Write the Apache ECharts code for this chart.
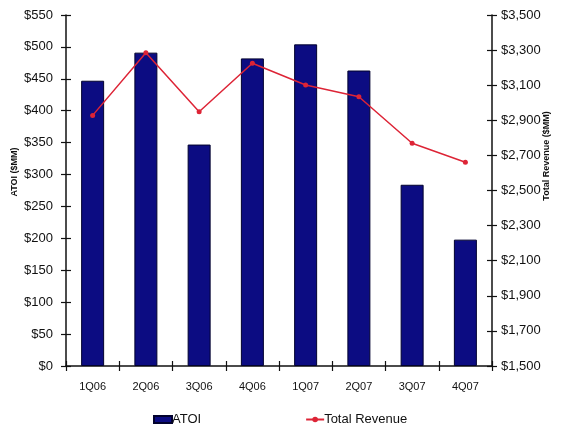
<!DOCTYPE html>
<html>
<head>
<meta charset="utf-8">
<script src="https://cdn.jsdelivr.net/npm/echarts@6/dist/echarts.min.js"></script>
<style>
  html, body { margin: 0; padding: 0; background: #fff; }
  #chart { width: 563px; height: 427px; }
</style>
</head>
<body>
<div id="chart"></div>
<script>
// Quarterly ATOI (bars, left axis) and total revenue (line, right axis), $MM
const quarters = ['1Q06', '2Q06', '3Q06', '4Q06', '1Q07', '2Q07', '3Q07', '4Q07'];
const atoi = [447, 491, 347, 482, 504, 463, 284, 198];
const totalRevenue = [2928, 3285, 2949, 3225, 3101, 3034, 2769, 2661];

const atoiAxis = { min: 0, max: 550, interval: 50 };
const revenueAxis = { min: 1500, max: 3500, interval: 200 };

const FONT = 'Liberation Sans, Arial, sans-serif';
const INK = '#111';
const AXIS_LINE = { show: true, lineStyle: { color: '#111', width: 1.5 } };

function money(v) {
  return '$' + v.toLocaleString('en-US');
}

// Each axis is paired with a label-less twin carrying inward ticks,
// so the tick marks cross the axis line.
function yPair(range, position, margin) {
  const base = Object.assign({
    type: 'value',
    position: position,
    splitLine: { show: false },
    axisLine: AXIS_LINE,
    axisTick: { show: true, inside: false, length: 5, lineStyle: { color: '#111', width: 1.2 } },
    axisLabel: { formatter: money, color: INK, fontFamily: FONT, fontSize: 13, margin: margin }
  }, range);
  const twin = Object.assign({
    type: 'value',
    position: position,
    splitLine: { show: false },
    axisLine: { show: false },
    axisTick: { show: true, inside: true, length: 5, lineStyle: { color: '#111', width: 1.2 } },
    axisLabel: { show: false }
  }, range);
  return [base, twin];
}

const [leftAxis, leftTwin] = yPair(atoiAxis, 'left', 13);
const [rightAxis, rightTwin] = yPair(revenueAxis, 'right', 9);

const chart = echarts.init(document.getElementById('chart'), null, { renderer: 'canvas' });

chart.setOption({
  backgroundColor: '#fff',
  animation: false,
  grid: { left: 66, right: 71, top: 15, bottom: 61, containLabel: false },
  xAxis: [
    {
      type: 'category',
      data: quarters,
      axisLine: AXIS_LINE,
      axisTick: { show: true, inside: false, length: 5, lineStyle: { color: '#111', width: 1.2 } },
      axisLabel: { color: INK, fontFamily: FONT, fontSize: 11, margin: 15 }
    },
    {
      type: 'category',
      data: quarters,
      position: 'bottom',
      axisLine: { show: false },
      axisTick: { show: true, inside: true, length: 5, lineStyle: { color: '#111', width: 1.2 } },
      axisLabel: { show: false }
    }
  ],
  yAxis: [leftAxis, rightAxis, leftTwin, rightTwin],
  legend: {
    left: 153,
    top: 413,
    padding: 0,
    itemGap: 104,
    itemWidth: 18,
    itemHeight: 7,
    textStyle: { color: INK, fontFamily: FONT, fontSize: 13, padding: [0, 0, 0, -5] },
    data: [
      { name: 'ATOI', icon: 'rect' },
      { name: 'Total Revenue' }
    ]
  },
  graphic: [
    {
      type: 'text',
      x: 15, y: 172, rotation: Math.PI / 2,
      style: {
        text: 'ATOI ($MM)', fill: INK, font: 'bold 9px ' + FONT,
        textAlign: 'center', textVerticalAlign: 'middle'
      }
    },
    {
      type: 'text',
      x: 547, y: 156, rotation: Math.PI / 2,
      style: {
        text: 'Total Revenue ($MM)', fill: INK, font: 'bold 9px ' + FONT,
        textAlign: 'center', textVerticalAlign: 'middle'
      }
    }
  ],
  series: [
    {
      name: 'ATOI',
      type: 'bar',
      xAxisIndex: 0,
      yAxisIndex: 0,
      data: atoi,
      barWidth: 23,
      itemStyle: { color: '#0c0c82', borderColor: '#02022e', borderWidth: 1 }
    },
    {
      name: 'Total Revenue',
      type: 'line',
      xAxisIndex: 0,
      yAxisIndex: 1,
      data: totalRevenue,
      symbol: 'circle',
      symbolSize: 5,
      lineStyle: { color: '#dd2436', width: 1.5 },
      itemStyle: { color: '#dd2436' }
    }
  ]
});
</script>
</body>
</html>
